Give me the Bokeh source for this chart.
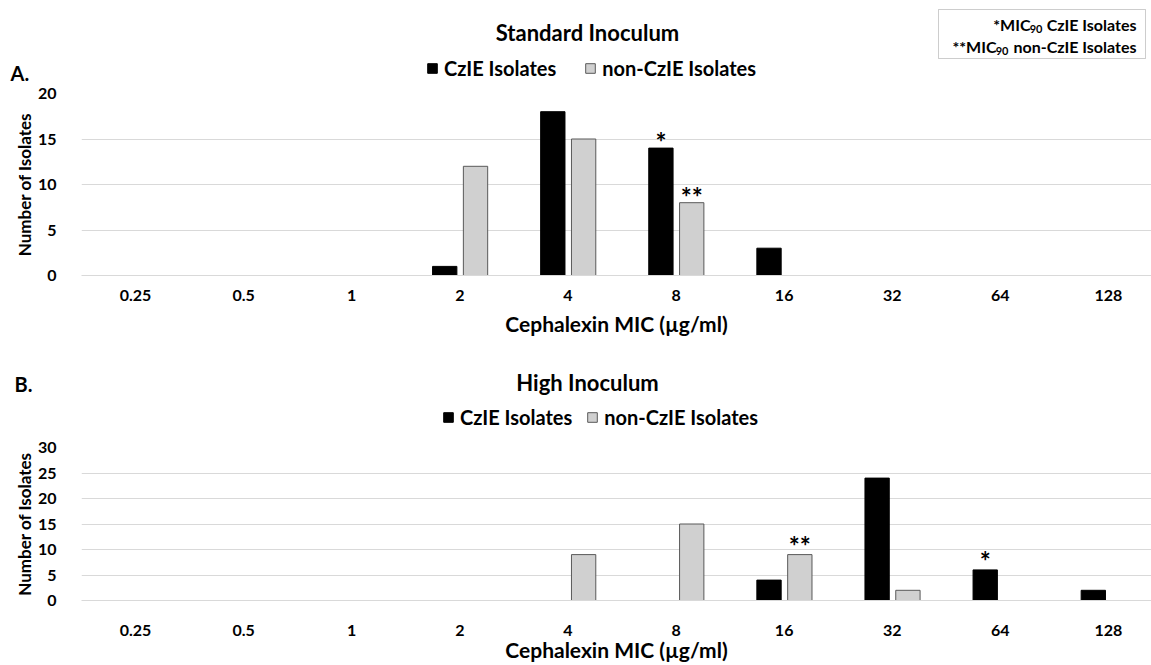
from bokeh.plotting import figure
from bokeh.models import (Range1d, Legend, LegendItem, Label, ColumnDataSource,
                          BoxAnnotation, FixedTicker)
from bokeh.transform import dodge
from bokeh.layouts import column
from bokeh.embed import file_html
from bokeh.resources import INLINE
from bokeh.core.properties import value

# ---------------- data ----------------
mic = ["0.25", "0.5", "1", "2", "4", "8", "16", "32", "64", "128"]

std_czie = [0, 0, 0, 1, 18, 14, 3, 0, 0, 0]
std_non = [0, 0, 0, 12, 15, 8, 0, 0, 0, 0]
std_czie_mark = ["", "", "", "", "", "*", "", "", "", ""]
std_non_mark = ["", "", "", "", "", "**", "", "", "", ""]

high_czie = [0, 0, 0, 0, 0, 0, 4, 24, 6, 2]
high_non = [0, 0, 0, 0, 9, 15, 9, 2, 0, 0]
high_czie_mark = ["", "", "", "", "", "", "", "", "*", ""]
high_non_mark = ["", "", "", "", "", "", "**", "", "", ""]

y_ticks_std = [0, 5, 10, 15, 20]
y_ticks_high = [0, 5, 10, 15, 20, 25, 30]

FONT = "Lato"
GRID = "#d9d9d9"
BLACK = "#000000"
GREY = "#d0d0d0"
GREY_LINE = "#595959"

W = 1151
BORDER_L = 81
CAT_PX = 108.1
X_END = -0.5 + (W - BORDER_L) / CAT_PX
OFF_C = -0.14
OFF_N = 0.145
BAR_W = 0.225


def make_panel(czie, non, czie_mark, non_mark, ymax, yticks, height,
               border_top, frame_h, s1, s2, mark_off):
    p = figure(x_range=Range1d(-0.5, X_END), y_range=Range1d(0, ymax),
               width=W, height=height, output_backend="svg",
               toolbar_location=None, min_border_left=BORDER_L,
               min_border_right=0, min_border_top=border_top,
               min_border_bottom=height - border_top - frame_h)
    p.outline_line_color = None
    p.xgrid.grid_line_color = None
    p.ygrid.grid_line_color = GRID
    p.ygrid.grid_line_width = 1
    p.yaxis.ticker = FixedTicker(ticks=yticks)
    p.xaxis.ticker = FixedTicker(ticks=list(range(len(mic))))
    p.xaxis.major_label_overrides = {i: m for i, m in enumerate(mic)}
    for ax in (p.xaxis[0], p.yaxis[0]):
        ax.major_tick_line_color = None
        ax.minor_tick_line_color = None
        ax.major_label_text_font = FONT
        ax.major_label_text_font_style = "bold"
        ax.major_label_text_font_size = "16px"
        ax.major_label_text_color = "#000000"
        ax.axis_label_text_font = FONT
        ax.axis_label_text_font_style = "bold"
        ax.axis_label_text_color = "#000000"
    p.xaxis.axis_label_text_font_size = "21px"
    p.yaxis.axis_label_text_font_size = "17px"
    p.yaxis.axis_line_color = None
    p.xaxis.axis_line_color = GRID
    p.xaxis.axis_label = "Cephalexin MIC (\u00b5g/ml)"
    p.yaxis.axis_label = "Number of Isolates"
    p.yaxis.major_label_standoff = 19
    p.yaxis.axis_label_standoff = 0
    p.xaxis.major_label_standoff = s1
    p.xaxis.axis_label_standoff = s2

    idx_c = [i for i, v in enumerate(czie) if v > 0]
    idx_n = [i for i, v in enumerate(non) if v > 0]
    src_c = ColumnDataSource(dict(x=idx_c, top=[czie[i] for i in idx_c]))
    src_n = ColumnDataSource(dict(x=idx_n, top=[non[i] for i in idx_n]))
    p.vbar(x=dodge("x", OFF_C), top="top", width=BAR_W, source=src_c,
           fill_color=BLACK, line_color=BLACK, line_width=1)
    p.vbar(x=dodge("x", OFF_N), top="top", width=BAR_W, source=src_n,
           fill_color=GREY, line_color=GREY_LINE, line_width=1)

    mc = [i for i, t in enumerate(czie_mark) if t]
    mn = [i for i, t in enumerate(non_mark) if t]
    src_mc = ColumnDataSource(dict(x=mc, y=[czie[i] for i in mc],
                                   t=[czie_mark[i] for i in mc]))
    src_mn = ColumnDataSource(dict(x=mn, y=[non[i] for i in mn],
                                   t=[non_mark[i] for i in mn]))
    for s, off in ((src_mc, OFF_C), (src_mn, OFF_N)):
        p.text(x=dodge("x", off), y="y", text="t", source=s,
               text_align="center", text_baseline="bottom", y_offset=mark_off,
               text_font=value(FONT), text_font_style="bold",
               text_font_size="26px", text_color="#000000")
    return p


def make_header(y0, y1):
    # header strip: its frame covers the whole strip, data coords == page pixels
    h = figure(x_range=Range1d(0, W), y_range=Range1d(y1, y0), width=W,
               height=y1 - y0, output_backend="svg", toolbar_location=None,
               x_axis_type=None, y_axis_type=None, min_border=0,
               frame_align=False)
    h.outline_line_color = None
    h.grid.visible = False
    return h


def add_legend(h, loc, spacing):
    nan = float("nan")
    rc = h.vbar(x=[nan], top=[nan], width=1, fill_color=BLACK, line_color=BLACK)
    rn = h.vbar(x=[nan], top=[nan], width=1, fill_color=GREY, line_color=GREY_LINE)
    lg = Legend(items=[LegendItem(label="CzIE Isolates", renderers=[rc]),
                       LegendItem(label="non-CzIE Isolates", renderers=[rn])],
                location=loc, orientation="horizontal", padding=0, margin=0,
                spacing=spacing, glyph_width=12, glyph_height=12,
                label_standoff=6, border_line_color=None,
                background_fill_alpha=0, label_text_font=FONT,
                label_text_font_style="bold", label_text_font_size="20px",
                label_text_color="#000000", label_height=20)
    h.add_layout(lg)


def label(h, x, y, text, size, align="left"):
    h.add_layout(Label(x=x, y=y, text=text, text_align=align,
                       text_baseline="middle", text_font=FONT,
                       text_font_style="bold", text_font_size=size,
                       text_color="#000000"))


# ---------------- panel A ----------------
HA0, HA1 = 0, 83
hA = make_header(HA0, HA1)
add_legend(hA, (426, HA1 - 80), 28)
label(hA, 587, 32, "Standard Inoculum", "22px", "center")
label(hA, 10, 72, "A.", "20px")
hA.add_layout(BoxAnnotation(left=938, right=1145, top=9, bottom=58,
                            fill_alpha=0, line_color=GREY_LINE, line_width=1))
label(hA, 1136, 24, "CzIE Isolates", "16px", "right")
label(hA, 1042, 28, "90", "11px", "right")
label(hA, 1030, 24, "*MIC", "16px", "right")
label(hA, 1136, 46, "non-CzIE Isolates", "16px", "right")
label(hA, 1008, 50, "90", "11px", "right")
label(hA, 996, 46, "**MIC", "16px", "right")

pA = make_panel(std_czie, std_non, std_czie_mark, std_non_mark,
                20, y_ticks_std, 338 - HA1, 93 - HA1, 184, 8, 7, 10)

# ---------------- panel B ----------------
HB0, HB1 = 338, 435
hB = make_header(HB0, HB1)
add_legend(hB, (442, HB1 - 429), 14)
label(hB, 587, 382, "High Inoculum", "22px", "center")
label(hB, 14, 383, "B.", "20px")

pB = make_panel(high_czie, high_non, high_czie_mark, high_non_mark,
                30, y_ticks_high, 664 - HB1, 447 - HB1, 155, 18, -2, 7)

layout = column(hA, pA, hB, pB)
open("out.html", "w").write(file_html(layout, INLINE))
